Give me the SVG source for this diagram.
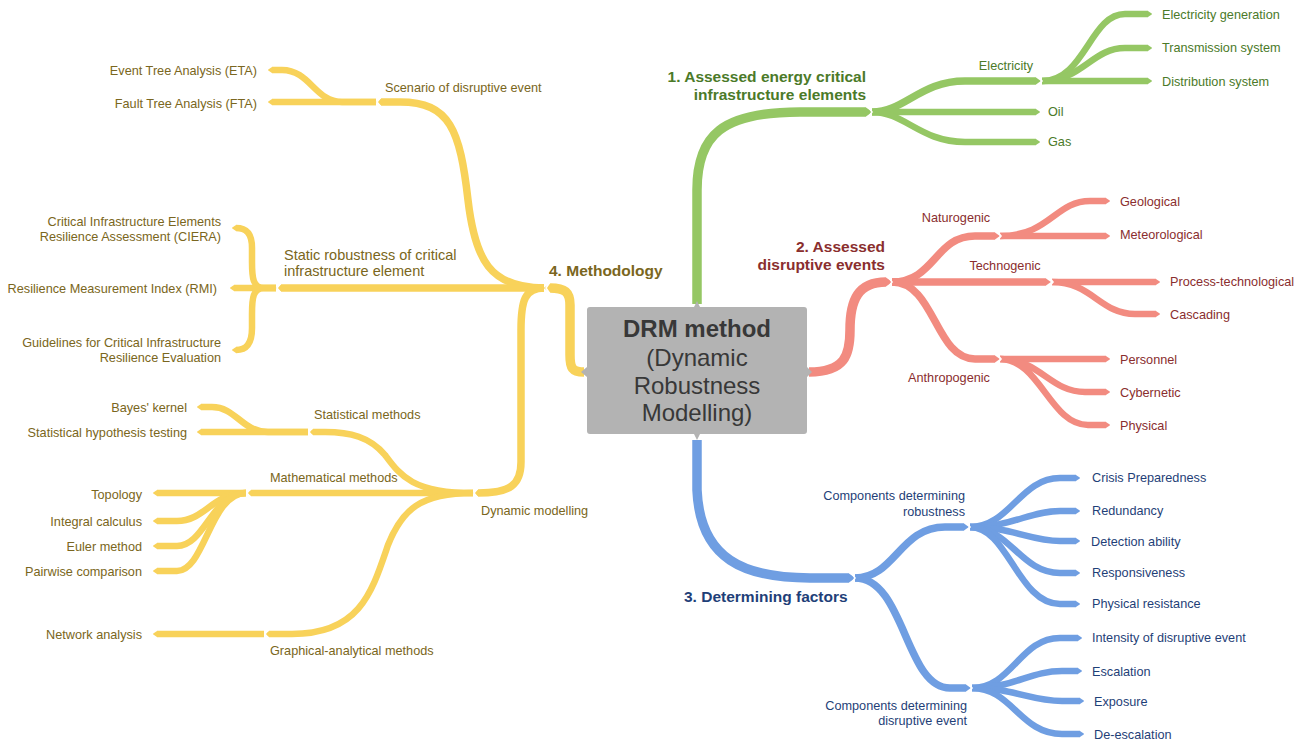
<svg xmlns="http://www.w3.org/2000/svg" width="1308" height="744" viewBox="0 0 1308 744">
<style>
text{font-family:"Liberation Sans",Arial,sans-serif;font-size:12.7px}
.g{stroke:#95c764}.r{stroke:#f28b80}.b{stroke:#6f9ee2}.y{stroke:#f8d25a}
.c{fill:none;stroke-linecap:butt;stroke-linejoin:round}
.m{stroke-width:9.5}.s{stroke-width:7.5}.l{stroke-width:6.5}
.g.l,.g.s{marker-end:url(#tg)}.r.l,.r.s{marker-end:url(#tr)}.b.l,.b.s{marker-end:url(#tb)}.y.l,.y.s{marker-end:url(#ty)}
.g.m{marker-end:url(#tg)}.r.m{marker-end:url(#tr)}.b.m{marker-end:url(#tb)}.y.m{marker-end:url(#ty)}
.tg{fill:#4b7a29}.tr{fill:#8a2e2e}.tb{fill:#1f3f78}.ty{fill:#7a6620}
.h{font-weight:bold;font-size:15.5px}
.e{text-anchor:end}.mid{text-anchor:middle}
.n{fill:none;stroke:#fff;stroke-width:1.6;stroke-linejoin:miter}
</style>
<defs>
<marker id="tg" viewBox="0 0 7 10" refX="0.5" refY="5" markerWidth="0.7" markerHeight="1" markerUnits="strokeWidth" orient="auto" preserveAspectRatio="none"><path d="M0,0 L7,5 L0,10 z" fill="#95c764"/></marker>
<marker id="tr" viewBox="0 0 7 10" refX="0.5" refY="5" markerWidth="0.7" markerHeight="1" markerUnits="strokeWidth" orient="auto" preserveAspectRatio="none"><path d="M0,0 L7,5 L0,10 z" fill="#f28b80"/></marker>
<marker id="tb" viewBox="0 0 7 10" refX="0.5" refY="5" markerWidth="0.7" markerHeight="1" markerUnits="strokeWidth" orient="auto" preserveAspectRatio="none"><path d="M0,0 L7,5 L0,10 z" fill="#6f9ee2"/></marker>
<marker id="ty" viewBox="0 0 7 10" refX="0.5" refY="5" markerWidth="0.7" markerHeight="1" markerUnits="strokeWidth" orient="auto" preserveAspectRatio="none"><path d="M0,0 L7,5 L0,10 z" fill="#f8d25a"/></marker>
</defs>
<rect width="1308" height="744" fill="#fff"/>
<g id="connectors">
<!-- green -->
<path class="c g m" d="M697 304 L697 190 C697 135 722 112 800 112 L866 112"/>
<path class="c g s" d="M872 112 C905 112 920 81 965 81 L1036 81"/>
<path class="c g l" d="M872 112 L1036 112"/>
<path class="c g l" d="M872 112 C905 112 920 142 965 142 L1036 142"/>
<path class="c g l" d="M1042 81 C1085 81 1090 14 1125 14 L1148 14"/>
<path class="c g l" d="M1042 81 C1082 81 1092 48 1125 48 L1148 48"/>
<path class="c g l" d="M1042 81 L1148 81"/>
<!-- red -->
<path class="c r m" d="M809 372 C845 372 850 355 850 330 C850 300 858 282 886 282"/>
<path class="c r s" d="M892 282 C935 282 935 236 975 236 L995 236"/>
<path class="c r s" d="M892 282 L1046 282"/>
<path class="c r s" d="M892 282 C935 282 935 359 975 359 L995 359"/>
<path class="c r l" d="M1000 236 C1050 236 1055 201 1090 201 L1106 201"/>
<path class="c r l" d="M1000 236 L1106 236"/>
<path class="c r l" d="M1052 282 L1156 282"/>
<path class="c r l" d="M1052 282 C1092 282 1100 314 1135 314 L1156 314"/>
<path class="c r l" d="M1000 359 L1106 359"/>
<path class="c r l" d="M1000 359 C1040 359 1050 392 1085 392 L1106 392"/>
<path class="c r l" d="M1000 359 C1040 359 1050 425 1088 425 L1106 425"/>
<!-- blue -->
<path class="c b m" d="M697 440 L697 490 C700 560 745 578 810 578 L849 578"/>
<path class="c b s" d="M855 578 C895 578 900 527 945 527 L964 527"/>
<path class="c b s" d="M855 578 C905 578 905 688 950 688 L966 688"/>
<path class="c b l" d="M970 527 C1010 527 1020 478 1060 478 L1076 478"/>
<path class="c b l" d="M970 527 C1012 527 1030 511 1060 511 L1076 511"/>
<path class="c b l" d="M970 527 C1012 527 1030 541 1060 541 L1076 541"/>
<path class="c b l" d="M970 527 C1010 527 1020 573 1060 573 L1076 573"/>
<path class="c b l" d="M970 527 C1008 527 1018 604 1060 604 L1076 604"/>
<path class="c b l" d="M972 688 C1012 688 1020 638 1060 638 L1078 638"/>
<path class="c b l" d="M972 688 C1014 688 1030 671 1062 671 L1078 671"/>
<path class="c b l" d="M972 688 C1014 688 1030 701 1062 701 L1080 701"/>
<path class="c b l" d="M972 688 C1012 688 1020 734 1062 734 L1080 734"/>
<!-- yellow -->
<path class="c y m" d="M584 372 C572 372 570 368 570 355 L570 305 C570 292 565 288 550 288"/>
<path class="c y s" d="M544 288 C490 288 475 260 468 200 C460 130 450 102 400 102 L381 102"/>
<path class="c y s" d="M544 288 L281 288"/>
<path class="c y s" d="M544 288 C525 288 521 300 521 330 L521 462 C521 485 510 493 478 493"/>
<path class="c y l" d="M376 102 L342 102 C315 102 310 70 282 70 L272 70"/>
<path class="c y l" d="M376 102 L272 102"/>
<path class="c y l" d="M276 288 L264 288 C253 288 252 278 252 262 L252 248 C252 233 246 228 236 228"/>
<path class="c y l" d="M276 288 L234 288"/>
<path class="c y l" d="M276 288 L264 288 C253 288 252 298 252 314 L252 328 C252 344 246 350 236 350"/>
<path class="c y l" d="M473 493 C412 493 400 475 385 455 C370 437 350 432 325 432 L313 432"/>
<path class="c y l" d="M473 493 L251 493"/>
<path class="c y l" d="M473 493 C420 493 402 510 388 545 C372 592 360 634 292 634 L269 634"/>
<path class="c y l" d="M308 432 L268 432 C242 432 236 407 212 407 L201 407"/>
<path class="c y l" d="M308 432 L201 432"/>
<path class="c y l" d="M246 493 L157 493"/>
<path class="c y l" d="M246 493 C212 493 205 521 177 521 L157 521"/>
<path class="c y l" d="M246 493 C212 493 205 546 177 546 L157 546"/>
<path class="c y l" d="M246 493 C210 493 205 571 177 571 L157 571"/>
<path class="c y l" d="M264 634 L157 634"/>
<!-- junction notches -->
<polyline class="n" points="868,106 872,112 868,118"/>
<polyline class="n" points="1038,76 1042,81 1038,86"/>
<polyline class="n" points="888,276 892,282 888,288"/>
<polyline class="n" points="997,231 1001,236 997,241"/>
<polyline class="n" points="1049,277 1053,282 1049,287"/>
<polyline class="n" points="997,354 1001,359 997,364"/>
<polyline class="n" points="851,572 855,578 851,584"/>
<polyline class="n" points="966,522 970,527 966,532"/>
<polyline class="n" points="968,683 972,688 968,693"/>
<polyline class="n" points="550,282 546,288 550,294"/>
<polyline class="n" points="381,97 377,102 381,107"/>
<polyline class="n" points="281,283 277,288 281,293"/>
<polyline class="n" points="478,488 474,493 478,498"/>
<polyline class="n" points="313,427 309,432 313,437"/>
<polyline class="n" points="251,488 247,493 251,498"/>
<polyline class="n" points="269,629 265,634 269,639"/>
</g>
<g id="node-center">
<path d="M590 307 H694 L697 301 L700 307 H804 Q807 307 807 310 V367 L812 372 L807 377 V431 Q807 434 804 434 H700 L697 440 L694 434 H590 Q587 434 587 431 V377 L581 372 L587 367 V310 Q587 307 590 307 Z" fill="#b3b3b3"/>
<text x="697" y="337" class="mid" style="font-size:24px;font-weight:bold" fill="#383838">DRM method</text>
<text x="697" y="366" class="mid" style="font-size:24px" fill="#383838">(Dynamic</text>
<text x="697" y="394" class="mid" style="font-size:24px" fill="#383838">Robustness</text>
<text x="697" y="421" class="mid" style="font-size:24px" fill="#383838">Modelling)</text>
</g>
<g id="node-1-energy">
<text class="h e tg" x="866" y="82">1. Assessed energy critical</text>
<text class="h e tg" x="866" y="100">infrastructure elements</text>
</g>
<g id="node-electricity"><text class="tg mid" x="1006" y="70">Electricity</text></g>
<g id="node-oil"><text class="tg" x="1048" y="116">Oil</text></g>
<g id="node-gas"><text class="tg" x="1048" y="146">Gas</text></g>
<g id="node-el-gen"><text class="tg" x="1162" y="19">Electricity generation</text></g>
<g id="node-el-trans"><text class="tg" x="1162" y="52">Transmission system</text></g>
<g id="node-el-dist"><text class="tg" x="1162" y="86">Distribution system</text></g>
<g id="node-2-events">
<text class="h e tr" x="885" y="252">2. Assessed</text>
<text class="h e tr" x="885" y="270">disruptive events</text>
</g>
<g id="node-naturogenic"><text class="tr mid" x="956" y="222">Naturogenic</text></g>
<g id="node-technogenic"><text class="tr mid" x="1005" y="270">Technogenic</text></g>
<g id="node-anthropogenic"><text class="tr mid" x="949" y="382">Anthropogenic</text></g>
<g id="node-geological"><text class="tr" x="1120" y="206">Geological</text></g>
<g id="node-meteorological"><text class="tr" x="1120" y="239">Meteorological</text></g>
<g id="node-process"><text class="tr" x="1170" y="286">Process-technological</text></g>
<g id="node-cascading"><text class="tr" x="1170" y="319">Cascading</text></g>
<g id="node-personnel"><text class="tr" x="1120" y="364">Personnel</text></g>
<g id="node-cybernetic"><text class="tr" x="1120" y="397">Cybernetic</text></g>
<g id="node-physical"><text class="tr" x="1120" y="430">Physical</text></g>
<g id="node-3-factors"><text class="h tb" x="684" y="602">3. Determining factors</text></g>
<g id="node-comp-robustness">
<text class="tb e" x="965" y="500">Components determining</text>
<text class="tb e" x="965" y="516">robustness</text>
</g>
<g id="node-comp-event">
<text class="tb e" x="967" y="710">Components determining</text>
<text class="tb e" x="967" y="725">disruptive event</text>
</g>
<g id="node-crisis"><text class="tb" x="1092" y="482">Crisis Preparedness</text></g>
<g id="node-redundancy"><text class="tb" x="1092" y="515">Redundancy</text></g>
<g id="node-detection"><text class="tb" x="1091" y="546">Detection ability</text></g>
<g id="node-responsiveness"><text class="tb" x="1092" y="577">Responsiveness</text></g>
<g id="node-phys-resist"><text class="tb" x="1092" y="608">Physical resistance</text></g>
<g id="node-intensity"><text class="tb" x="1092" y="642">Intensity of disruptive event</text></g>
<g id="node-escalation"><text class="tb" x="1092" y="676">Escalation</text></g>
<g id="node-exposure"><text class="tb" x="1094" y="706">Exposure</text></g>
<g id="node-deescalation"><text class="tb" x="1094" y="739">De-escalation</text></g>
<g id="node-4-methodology"><text class="h ty" x="549" y="276">4. Methodology</text></g>
<g id="node-scenario"><text class="ty" x="385" y="92">Scenario of disruptive event</text></g>
<g id="node-static">
<text class="ty" x="284" y="260" style="font-size:14.5px">Static robustness of critical</text>
<text class="ty" x="284" y="276" style="font-size:14.5px">infrastructure element</text>
</g>
<g id="node-dynamic"><text class="ty" x="481" y="515">Dynamic modelling</text></g>
<g id="node-eta"><text class="ty e" x="257" y="75">Event Tree Analysis (ETA)</text></g>
<g id="node-fta"><text class="ty e" x="257" y="108">Fault Tree Analysis (FTA)</text></g>
<g id="node-ciera">
<text class="ty e" x="221" y="226">Critical Infrastructure Elements</text>
<text class="ty e" x="221" y="241">Resilience Assessment (CIERA)</text>
</g>
<g id="node-rmi"><text class="ty e" x="217" y="293">Resilience Measurement Index (RMI)</text></g>
<g id="node-guidelines">
<text class="ty e" x="221" y="347">Guidelines for Critical Infrastructure</text>
<text class="ty e" x="221" y="362">Resilience Evaluation</text>
</g>
<g id="node-statistical"><text class="ty" x="314" y="419">Statistical methods</text></g>
<g id="node-bayes"><text class="ty e" x="187" y="412">Bayes' kernel</text></g>
<g id="node-hypothesis"><text class="ty e" x="187" y="437">Statistical hypothesis testing</text></g>
<g id="node-mathematical"><text class="ty" x="270" y="482">Mathematical methods</text></g>
<g id="node-topology"><text class="ty e" x="142" y="499">Topology</text></g>
<g id="node-integral"><text class="ty e" x="142" y="526">Integral calculus</text></g>
<g id="node-euler"><text class="ty e" x="142" y="551">Euler method</text></g>
<g id="node-pairwise"><text class="ty e" x="142" y="576">Pairwise comparison</text></g>
<g id="node-graphical"><text class="ty" x="270" y="655">Graphical-analytical methods</text></g>
<g id="node-network"><text class="ty e" x="142" y="639">Network analysis</text></g>
</svg>
